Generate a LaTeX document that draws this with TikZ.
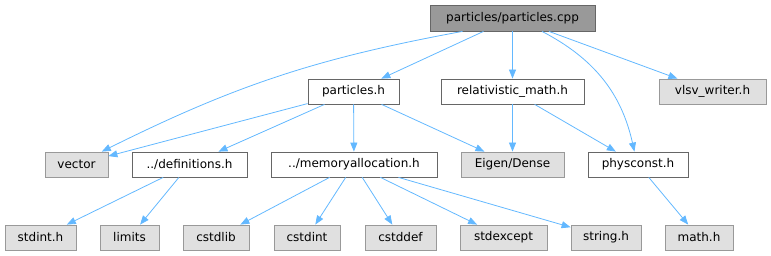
\documentclass[tikz,border=0pt]{standalone}
\usepackage{fontspec}
\setmainfont{DejaVu Sans}
\usetikzlibrary{arrows.meta}
\definecolor{edgeblue}{HTML}{63B8FF}
\definecolor{boxline}{HTML}{666666}
\definecolor{sysline}{HTML}{999999}
\definecolor{sysfill}{HTML}{E0E0E0}
\definecolor{rootfill}{HTML}{999999}

\begin{document}
\begin{tikzpicture}[x=1pt,y=-1pt,
  file/.style={draw=boxline,fill=white,line width=0.8pt,minimum height=25pt,inner sep=0pt,font=\fontsize{12}{14}\selectfont},
  sysfile/.style={file,draw=sysline,fill=sysfill},
  rootfile/.style={file,fill=rootfill,minimum height=26pt},
  edge/.style={draw=edgeblue,line width=0.8pt,-{Triangle[length=9pt,width=7pt]}}]
\useasboundingbox (0,0) rectangle (771,256);
\node[rootfile,minimum width=165pt] (cpp) at (512.5,18) {particles/particles.cpp};
\node[file,minimum width=91pt] (particlesh) at (353.5,91.5) {particles.h};
\node[file,minimum width=143pt] (relmath) at (512.5,91.5) {relativistic\_math.h};
\node[sysfile,minimum width=107pt] (vlsv) at (712.5,91.5) {vlsv\_writer.h};
\node[sysfile,minimum width=63pt] (vector) at (76.5,164.5) {vector};
\node[file,minimum width=115pt] (defs) at (189.5,164.5) {../definitions.h};
\node[file,minimum width=166pt] (memalloc) at (354,164.5) {../memoryallocation.h};
\node[sysfile,minimum width=103pt] (eigen) at (512.5,164.5) {Eigen/Dense};
\node[file,minimum width=100pt] (physconst) at (638,164.5) {physconst.h};
\node[sysfile,minimum width=71pt] (stdinth) at (40.5,237.5) {stdint.h};
\node[sysfile,minimum width=59pt] (limits) at (129.5,237.5) {limits};
\node[sysfile,minimum width=66pt] (cstdlib) at (216,237.5) {cstdlib};
\node[sysfile,minimum width=66pt] (cstdint) at (307,237.5) {cstdint};
\node[sysfile,minimum width=71pt] (cstddef) at (400.5,237.5) {cstddef};
\node[sysfile,minimum width=87pt] (stdexcept) at (503.5,237.5) {stdexcept};
\node[sysfile,minimum width=70pt] (stringh) at (606,237.5) {string.h};
\node[sysfile,minimum width=68pt] (mathh) at (699,237.5) {math.h};
\draw[edge] (cpp) -- (particlesh);
\draw[edge] (cpp.195) to[bend right=8] (vector);
\draw[edge] (cpp) -- (relmath);
\draw[edge] (cpp) to[bend left=25] (physconst);
\draw[edge] (cpp) -- (vlsv);
\draw[edge] (particlesh) -- (vector);
\draw[edge] (particlesh) -- (defs);
\draw[edge] (particlesh) -- (memalloc);
\draw[edge] (particlesh) -- (eigen);
\draw[edge] (relmath) -- (eigen);
\draw[edge] (relmath) -- (physconst);
\draw[edge] (defs) -- (stdinth);
\draw[edge] (defs) -- (limits);
\draw[edge] (memalloc) -- (cstdlib);
\draw[edge] (memalloc) -- (cstdint);
\draw[edge] (memalloc) -- (cstddef);
\draw[edge] (memalloc) -- (stdexcept);
\draw[edge] (memalloc) -- (stringh);
\draw[edge] (physconst) -- (mathh);
\end{tikzpicture}
\end{document}
